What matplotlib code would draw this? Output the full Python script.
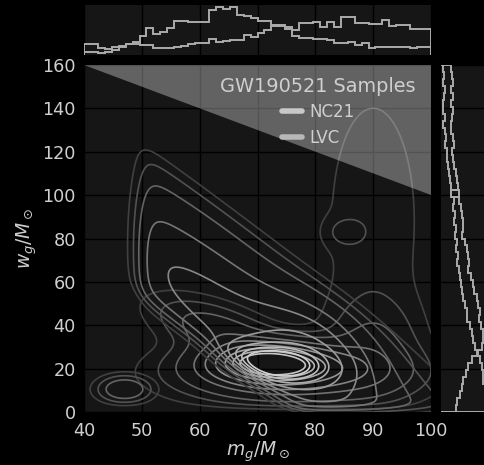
import numpy as np
import matplotlib
matplotlib.use("Agg")
import matplotlib.pyplot as plt

# ---------------- data ----------------
# top marginal histograms (m_g), 50 bins from 40 to 100, relative heights
m_edges = np.linspace(40, 100, 51)
top_a = [157,157,158,155,150,140,133,125,108,83,103,95,83,62,62,65,65,65,30,22,
         28,20,45,48,55,62,62,75,78,88,108,115,115,118,118,120,130,130,125,135,
         130,145,140,140,140,140,142,145,142,140]
top_b = [133,133,145,147,140,137,133,133,135,135,145,145,145,140,138,132,128,130,118,125,
         122,120,120,105,110,100,90,78,75,82,90,70,68,65,80,65,80,52,52,70,
         70,72,72,60,78,75,75,87,88,88]
top_a = [(165 - v) / 150 for v in top_a]
top_b = [(165 - v) / 150 for v in top_b]

# right marginal histograms (w_g), 50 bins from 0 to 160 (bottom to top)
w_edges = np.linspace(0, 160, 51)
right_c = [165,168,170,165,160,158,155,150,140,135,130,125,120,112,110,105,100,95,92,90,
           88,82,85,78,80,76,78,72,75,70,72,88,62,60,58,55,52,50,46,48,45,40,44,38,40,42,45,40,42,40]
right_d = [78,82,90,95,100,108,115,125,145,155,160,158,152,148,150,145,140,132,128,122,
           115,118,115,110,105,96,100,98,95,92,88,62,85,80,78,72,70,66,72,68,64,62,66,70,64,68,62,70,66,64]
right_c = [(v - 33) / 3 for v in right_c]
right_d = [(v - 33) / 3 for v in right_d]

# 2D density models (Gaussian mixtures read from the contour shapes)
# centre m, centre w, long sd, short sd, angle of long axis (deg), weight
nc21_m = [72, 66, 80]
nc21_w = [22, 40, 30]
nc21_long = [6.5, 60, 15]
nc21_short = [5.5, 11, 6]
nc21_ang = [-40, -68, -80]
nc21_wt = [0.10, 1.0, 0.08]
# edges of the NC21 sample region: left m, top (w + 2m), lower diagonal (w + 1.96m)
nc21_left, nc21_top, nc21_diag = 50.0, 224.0, 152.0
# isolated NC21 island
island_m, island_w, island_sm, island_sw, island_rel = 47.0, 10.5, 2.8, 3.8, 0.19

lvc_m = [72, 76, 64, 90, 90, 85]
lvc_w = [23, 18, 36, 30, 88, 83]
lvc_long = [6.5, 11, 11, 14, 44, 4.5]
lvc_short = [5.5, 8, 5, 5, 6, 2.2]
lvc_ang = [0, 0, -60, 90, 90, 90]
lvc_wt = [0.25, 0.40, 0.10, 0.08, 0.12, 0.005]

level_fracs = [0.02, 0.05, 0.1, 0.2, 0.3, 0.42, 0.55, 0.66, 0.76]

xticks = [40, 50, 60, 70, 80, 90, 100]
yticks = [0, 20, 40, 60, 80, 100, 120, 140, 160]

# ---------------- helpers ----------------
def sig(x):
    return 1 / (1 + np.exp(-x))

def mixture(M, W, ms, ws, ls, ss, angs, wts):
    Z = np.zeros_like(M)
    for m0, w0, L, S, ang, a in zip(ms, ws, ls, ss, angs, wts):
        t = np.deg2rad(ang)
        dm, dw = M - m0, W - w0
        u = dm * np.cos(t) + dw * np.sin(t)
        v = -dm * np.sin(t) + dw * np.cos(t)
        Z += a * np.exp(-0.5 * ((u / L) ** 2 + (v / S) ** 2)) / (2 * np.pi * L * S)
    return Z

# ---------------- figure ----------------
plt.rcParams['font.family'] = ['DejaVu Sans']
fig = plt.figure(figsize=(4.85, 4.65), dpi=100, facecolor='black')
face = '#161616'
txt = '#cfcfcf'

ax = fig.add_axes([0.1732, 0.114, 0.7155, 0.746])
axt = fig.add_axes([0.1732, 0.8817, 0.7155, 0.1075], sharex=ax)
axr = fig.add_axes([0.9093, 0.114, 0.0907, 0.746], sharey=ax)

for a in (ax, axt, axr):
    a.set_facecolor(face)
    for s in a.spines.values():
        s.set_visible(False)
    a.tick_params(length=0, colors=txt, labelsize=12.7, pad=6)
    a.set_axisbelow(True)
ax.tick_params(axis='x', pad=7)

gm = np.linspace(36, 104, 340)
gw = np.linspace(-10, 170, 500)
M, W = np.meshgrid(gm, gw)
wbound = sig((W - 1.5) / 1.2)

Z1 = mixture(M, W, nc21_m, nc21_w, nc21_long, nc21_short, nc21_ang, nc21_wt)
Z1 *= sig((M - nc21_left) / 1.0) * sig((nc21_top - W - 2 * M) / 3.0) \
      * sig((W + 1.96 * M - nc21_diag) / 2.5)
Z1 += island_rel * Z1.max() * np.exp(-0.5 * (((M - island_m) / island_sm) ** 2
                                            + ((W - island_w) / island_sw) ** 2))
Z1 *= wbound
Z2 = mixture(M, W, lvc_m, lvc_w, lvc_long, lvc_short, lvc_ang, lvc_wt) * wbound

lv1 = [f * Z1.max() for f in level_fracs]
lv2 = [f * Z2.max() for f in level_fracs]
cols1 = [str(g) for g in np.linspace(0.25, 0.82, len(lv1))]
cols2 = [str(g) for g in np.linspace(0.25, 0.78, len(lv2))]
ax.contour(M, W, Z2, levels=lv2, colors=cols2, linewidths=1.2, zorder=2)
ax.contour(M, W, Z1, levels=lv1, colors=cols1, linewidths=1.2, zorder=3)

# excluded region
ax.fill([40, 100, 100], [160, 160, 100], color='white', alpha=0.33, lw=0, zorder=4)

ax.grid(True, color='black', lw=1.0)
ax.set_xlim(40, 100)
ax.set_ylim(0, 160)
ax.set_xticks(xticks)
ax.set_yticks(yticks)
ax.set_xlabel(r'$m_g/M_\odot$', color=txt, fontsize=13.5, labelpad=0)
ax.set_ylabel(r'$w_g/M_\odot$', color=txt, fontsize=13.5, labelpad=2)

h1, = ax.plot([], [], color='#c8c8c8', lw=4, solid_capstyle='round', label='NC21')
h2, = ax.plot([], [], color='#b8b8b8', lw=4, solid_capstyle='round', label='LVC')
leg = ax.legend(handles=[h1, h2], title='GW190521 Samples', loc='upper right',
                frameon=False, fontsize=12, title_fontsize=13.9, handlelength=1.2,
                handletextpad=0.45, bbox_to_anchor=(1.0, 1.01), labelspacing=0.45)
for t in leg.get_texts():
    t.set_color(txt)
leg.get_title().set_color(txt)
leg.set_zorder(6)

# top marginal
axt.stairs(top_a, m_edges, color='#ababab', lw=1.4)
axt.stairs(top_b, m_edges, color='#ababab', lw=1.4)
axt.set_ylim(0, 1.0)
axt.grid(True, axis='x', color='black', lw=1.0)
axt.tick_params(labelbottom=False, labelleft=False)
axt.set_yticks([])

# right marginal
axr.stairs(right_c, w_edges, orientation='horizontal', color='#ababab', lw=1.4)
axr.stairs(right_d, w_edges, orientation='horizontal', color='#ababab', lw=1.4)
axr.set_xlim(0, 44)
axr.grid(True, axis='y', color='black', lw=1.0)
axr.tick_params(labelbottom=False, labelleft=False)
axr.set_xticks([])

fig.savefig('out.png', dpi=100, facecolor='black')
